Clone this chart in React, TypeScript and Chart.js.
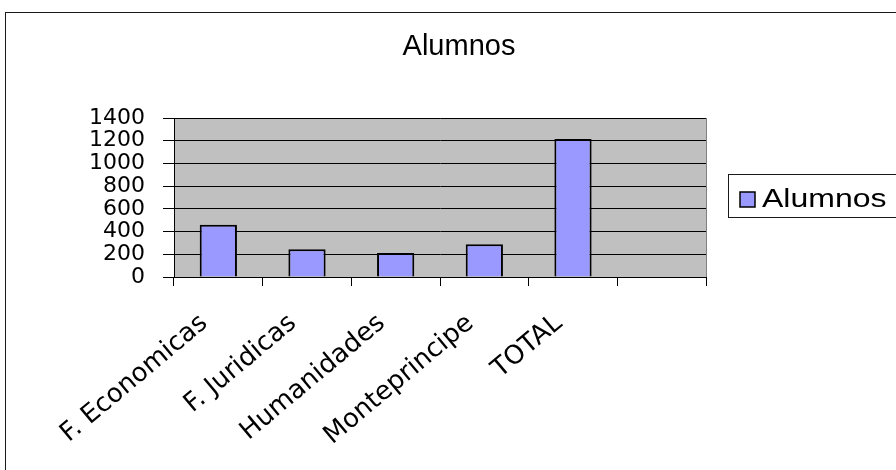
import React, { useEffect, useRef } from "react";
import { Chart, registerables } from "chart.js";

Chart.register(...registerables);

const categories = ["F. Economicas", "F. Juridicas", "Humanidades", "Monteprincipe", "TOTAL", ""];
const alumnos: (number | null)[] = [460, 244, 211, 288, 1215, null];
const seriesName = "Alumnos";
const chartTitle = "Alumnos";
const yMin = 0;
const yMax = 1400;
const yStep = 200;

const BAR_FILL = "#9999FF";

const frame = {
  id: "frame",
  beforeDraw(chart: any) {
    const { ctx, chartArea } = chart;
    ctx.save();
    ctx.fillStyle = "#ffffff";
    ctx.fillRect(0, 0, chart.width, chart.height);
    ctx.strokeStyle = "#1a1a1a";
    ctx.lineWidth = 1;
    ctx.strokeRect(5.5, 12.5, 2000, 2000);
    ctx.fillStyle = "#C0C0C0";
    ctx.fillRect(chartArea.left, chartArea.top, chartArea.right - chartArea.left, chartArea.bottom - chartArea.top);
    ctx.strokeStyle = "#808080";
    ctx.strokeRect(chartArea.left + 0.5, chartArea.top + 0.5, chartArea.right - chartArea.left, chartArea.bottom - chartArea.top);
    // title
    ctx.fillStyle = "#000";
    ctx.font = "29px 'Liberation Sans', Arial, sans-serif";
    ctx.textAlign = "center";
    ctx.textBaseline = "alphabetic";
    ctx.fillText(chartTitle, 459, 55);
    // legend
    ctx.strokeStyle = "#1a1a1a";
    ctx.strokeRect(728.5, 174.5, 300, 43);
    ctx.fillStyle = BAR_FILL;
    ctx.fillRect(740, 192, 15, 15);
    ctx.strokeStyle = "#000";
    ctx.lineWidth = 1.5;
    ctx.strokeRect(740, 192, 15, 15);
    ctx.fillStyle = "#000";
    ctx.textAlign = "left";
    ctx.font = "25px 'Liberation Sans', Arial, sans-serif";
    ctx.save();
    ctx.translate(762, 207);
    ctx.scale(1.28, 1);
    ctx.fillText(seriesName, 0, 0);
    ctx.restore();
    ctx.restore();
  },
};

export default function App() {
  const ref = useRef<HTMLCanvasElement | null>(null);
  useEffect(() => {
    if (!ref.current) return;
    const chart = new Chart(ref.current, {
      type: "bar",
      data: {
        labels: categories,
        datasets: [
          {
            label: seriesName,
            data: alumnos,
            backgroundColor: BAR_FILL,
            borderColor: "#000",
            borderWidth: 2,
            barPercentage: 0.42,
            categoryPercentage: 1,
          },
        ],
      },
      options: {
        responsive: false,
        animation: false,
        devicePixelRatio: 1,
        layout: { padding: { left: 0, right: 190, top: 118, bottom: 0 } },
        plugins: { legend: { display: false }, title: { display: false }, tooltip: { enabled: false } },
        scales: {
          x: {
            offset: true,
            afterFit(scale: any) {
              scale.height = 193;
            },
            grid: { offset: true, drawOnChartArea: false, color: "#000", tickLength: 9, lineWidth: 1 },
            border: { color: "#000", width: 1 },
            ticks: {
              autoSkip: false,
              minRotation: 40,
              maxRotation: 40,
              padding: 22,
              labelOffset: -14,
              color: "#000",
              font: { family: "'DejaVu Sans', sans-serif", size: 26 },
            },
          },
          y: {
            min: yMin,
            max: yMax,
            afterFit(scale: any) {
              scale.width = 174;
            },
            grid: { color: "#000", tickLength: 11, lineWidth: 1 },
            border: { color: "#000", width: 1 },
            ticks: {
              stepSize: yStep,
              autoSkip: false,
              padding: 18,
              color: "#000",
              callback: (v: any) => String(v),
              font: { family: "'DejaVu Sans', sans-serif", size: 22, lineHeight: 1 },
            },
          },
        },
      },
      plugins: [frame],
    });
    return () => chart.destroy();
  }, []);
  return (
    <div style={{ position: "absolute", left: 0, top: 0, width: 896, height: 470 }}>
      <canvas ref={ref} width={896} height={470} style={{ display: "block" }} />
    </div>
  );
}
